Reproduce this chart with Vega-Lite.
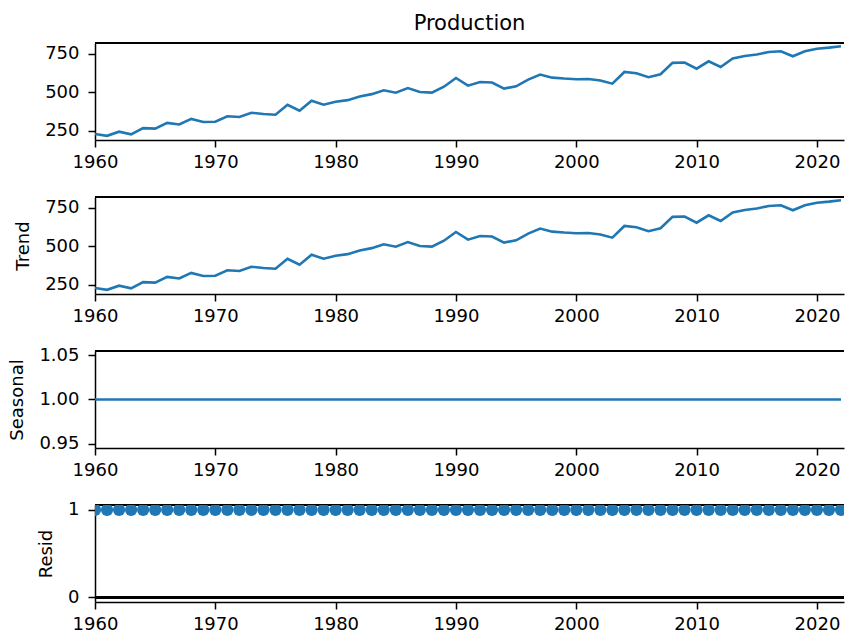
{
  "$schema": "https://vega.github.io/schema/vega-lite/v6.json",
  "padding": {"left": 8, "top": 13, "right": 0, "bottom": 0},
  "title": {"text": "Production", "anchor": "middle", "frame": "group", "fontSize": 21, "fontWeight": "normal", "color": "black", "offset": 8},
  "bounds": "flush",
  "spacing": 57,
  "datasets": {
    "d": [
      {"year":1960,"production":230,"trend":230,"seasonal":1,"resid":1},
      {"year":1961,"production":218,"trend":218,"seasonal":1,"resid":1},
      {"year":1962,"production":245,"trend":245,"seasonal":1,"resid":1},
      {"year":1963,"production":228,"trend":228,"seasonal":1,"resid":1},
      {"year":1964,"production":268,"trend":268,"seasonal":1,"resid":1},
      {"year":1965,"production":265,"trend":265,"seasonal":1,"resid":1},
      {"year":1966,"production":302,"trend":302,"seasonal":1,"resid":1},
      {"year":1967,"production":292,"trend":292,"seasonal":1,"resid":1},
      {"year":1968,"production":328,"trend":328,"seasonal":1,"resid":1},
      {"year":1969,"production":308,"trend":308,"seasonal":1,"resid":1},
      {"year":1970,"production":310,"trend":310,"seasonal":1,"resid":1},
      {"year":1971,"production":345,"trend":345,"seasonal":1,"resid":1},
      {"year":1972,"production":340,"trend":340,"seasonal":1,"resid":1},
      {"year":1973,"production":368,"trend":368,"seasonal":1,"resid":1},
      {"year":1974,"production":360,"trend":360,"seasonal":1,"resid":1},
      {"year":1975,"production":355,"trend":355,"seasonal":1,"resid":1},
      {"year":1976,"production":420,"trend":420,"seasonal":1,"resid":1},
      {"year":1977,"production":381,"trend":381,"seasonal":1,"resid":1},
      {"year":1978,"production":446,"trend":446,"seasonal":1,"resid":1},
      {"year":1979,"production":420,"trend":420,"seasonal":1,"resid":1},
      {"year":1980,"production":439,"trend":439,"seasonal":1,"resid":1},
      {"year":1981,"production":450,"trend":450,"seasonal":1,"resid":1},
      {"year":1982,"production":474,"trend":474,"seasonal":1,"resid":1},
      {"year":1983,"production":489,"trend":489,"seasonal":1,"resid":1},
      {"year":1984,"production":514,"trend":514,"seasonal":1,"resid":1},
      {"year":1985,"production":498,"trend":498,"seasonal":1,"resid":1},
      {"year":1986,"production":528,"trend":528,"seasonal":1,"resid":1},
      {"year":1987,"production":503,"trend":503,"seasonal":1,"resid":1},
      {"year":1988,"production":499,"trend":499,"seasonal":1,"resid":1},
      {"year":1989,"production":537,"trend":537,"seasonal":1,"resid":1},
      {"year":1990,"production":594,"trend":594,"seasonal":1,"resid":1},
      {"year":1991,"production":544,"trend":544,"seasonal":1,"resid":1},
      {"year":1992,"production":568,"trend":568,"seasonal":1,"resid":1},
      {"year":1993,"production":564,"trend":564,"seasonal":1,"resid":1},
      {"year":1994,"production":525,"trend":525,"seasonal":1,"resid":1},
      {"year":1995,"production":540,"trend":540,"seasonal":1,"resid":1},
      {"year":1996,"production":583,"trend":583,"seasonal":1,"resid":1},
      {"year":1997,"production":616,"trend":616,"seasonal":1,"resid":1},
      {"year":1998,"production":596,"trend":596,"seasonal":1,"resid":1},
      {"year":1999,"production":590,"trend":590,"seasonal":1,"resid":1},
      {"year":2000,"production":586,"trend":586,"seasonal":1,"resid":1},
      {"year":2001,"production":587,"trend":587,"seasonal":1,"resid":1},
      {"year":2002,"production":577,"trend":577,"seasonal":1,"resid":1},
      {"year":2003,"production":557,"trend":557,"seasonal":1,"resid":1},
      {"year":2004,"production":633,"trend":633,"seasonal":1,"resid":1},
      {"year":2005,"production":625,"trend":625,"seasonal":1,"resid":1},
      {"year":2006,"production":599,"trend":599,"seasonal":1,"resid":1},
      {"year":2007,"production":618,"trend":618,"seasonal":1,"resid":1},
      {"year":2008,"production":692,"trend":692,"seasonal":1,"resid":1},
      {"year":2009,"production":694,"trend":694,"seasonal":1,"resid":1},
      {"year":2010,"production":654,"trend":654,"seasonal":1,"resid":1},
      {"year":2011,"production":702,"trend":702,"seasonal":1,"resid":1},
      {"year":2012,"production":665,"trend":665,"seasonal":1,"resid":1},
      {"year":2013,"production":720,"trend":720,"seasonal":1,"resid":1},
      {"year":2014,"production":737,"trend":737,"seasonal":1,"resid":1},
      {"year":2015,"production":746,"trend":746,"seasonal":1,"resid":1},
      {"year":2016,"production":763,"trend":763,"seasonal":1,"resid":1},
      {"year":2017,"production":767,"trend":767,"seasonal":1,"resid":1},
      {"year":2018,"production":735,"trend":735,"seasonal":1,"resid":1},
      {"year":2019,"production":767,"trend":767,"seasonal":1,"resid":1},
      {"year":2020,"production":784,"trend":784,"seasonal":1,"resid":1},
      {"year":2021,"production":791,"trend":791,"seasonal":1,"resid":1},
      {"year":2022,"production":800,"trend":800,"seasonal":1,"resid":1}
    ]
  },
  "vconcat": [
    {
      "width": 749, "height": 97,
      "data": {"name": "d"},
      "layer": [
        {"mark": {"type": "rule", "color": "black", "strokeWidth": 1.5}, "encoding": {"y": {"datum": 821, "type": "quantitative"}}},
        {"mark": {"type": "line", "color": "#1f77b4", "strokeWidth": 2.6, "clip": true},
         "encoding": {
           "x": {"field": "year", "type": "quantitative", "scale": {"domain": [1960, 2022.25], "nice": false, "zero": false}, "axis": {"values": [1960,1970,1980,1990,2000,2010,2020], "format": "d", "title": null}},
           "y": {"field": "production", "type": "quantitative", "scale": {"domain": [191, 821], "nice": false, "zero": false}, "axis": {"values": [250,500,750], "title": null}}
         }}
      ]
    },
    {
      "width": 749, "height": 97,
      "data": {"name": "d"},
      "layer": [
        {"mark": {"type": "rule", "color": "black", "strokeWidth": 1.5}, "encoding": {"y": {"datum": 821, "type": "quantitative"}}},
        {"mark": {"type": "line", "color": "#1f77b4", "strokeWidth": 2.6, "clip": true},
         "encoding": {
           "x": {"field": "year", "type": "quantitative", "scale": {"domain": [1960, 2022.25], "nice": false, "zero": false}, "axis": {"values": [1960,1970,1980,1990,2000,2010,2020], "format": "d", "title": null}},
           "y": {"field": "trend", "type": "quantitative", "scale": {"domain": [191, 821], "nice": false, "zero": false}, "axis": {"values": [250,500,750], "title": "Trend"}}
         }}
      ]
    },
    {
      "width": 749, "height": 97,
      "data": {"name": "d"},
      "layer": [
        {"mark": {"type": "rule", "color": "black", "strokeWidth": 1.5}, "encoding": {"y": {"datum": 1.055, "type": "quantitative"}}},
        {"mark": {"type": "line", "color": "#1f77b4", "strokeWidth": 2.6, "clip": true},
         "encoding": {
           "x": {"field": "year", "type": "quantitative", "scale": {"domain": [1960, 2022.25], "nice": false, "zero": false}, "axis": {"values": [1960,1970,1980,1990,2000,2010,2020], "format": "d", "title": null}},
           "y": {"field": "seasonal", "type": "quantitative", "scale": {"domain": [0.945, 1.055], "nice": false, "zero": false}, "axis": {"values": [0.95,1.0,1.05], "format": ".2f", "title": "Seasonal"}}
         }}
      ]
    },
    {
      "width": 749, "height": 97,
      "data": {"name": "d"},
      "layer": [
        {"mark": {"type": "rule", "color": "black", "strokeWidth": 1.5}, "encoding": {"y": {"datum": 1.055, "type": "quantitative"}}},
        {"mark": {"type": "rule", "color": "black", "strokeWidth": 2.5}, "encoding": {"y": {"datum": 0, "type": "quantitative"}}},
        {"mark": {"type": "point", "shape": "circle", "filled": true, "size": 150, "opacity": 1, "color": "#1f77b4", "clip": true},
         "encoding": {
           "x": {"field": "year", "type": "quantitative", "scale": {"domain": [1960, 2022.25], "nice": false, "zero": false}, "axis": {"values": [1960,1970,1980,1990,2000,2010,2020], "format": "d", "title": null}},
           "y": {"field": "resid", "type": "quantitative", "scale": {"domain": [-0.055, 1.055], "nice": false, "zero": false}, "axis": {"values": [0,1], "format": "d", "title": "Resid"}}
         }}
      ]
    }
  ],
  "config": {
    "font": "DejaVu Sans",
    "view": {"stroke": null},
    "axis": {"domainColor": "black", "domainWidth": 1.5, "tickColor": "black", "tickWidth": 1.5, "tickSize": 7, "labelFontSize": 18, "labelColor": "black", "titleFontSize": 18, "titleFontWeight": "normal", "titleColor": "black", "grid": false, "titlePadding": 12, "labelFlush": false, "labelOverlap": false},
    "axisX": {"labelPadding": 6},
    "axisY": {"labelPadding": 9}
  }
}
